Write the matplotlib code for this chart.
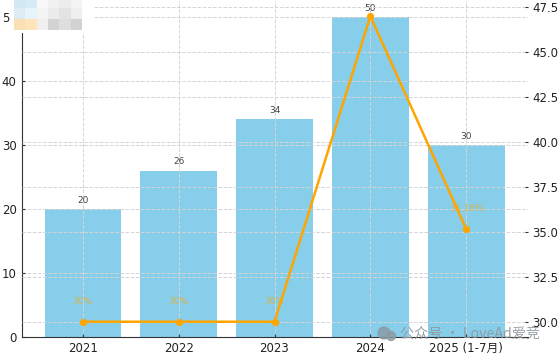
import matplotlib
matplotlib.use("Agg")
import numpy as np
import matplotlib.pyplot as plt
from matplotlib.patches import Circle

plt.rcParams['font.family'] = ['DejaVu Sans', 'Noto Sans CJK SC']

# chart data
years = ['2021', '2022', '2023', '2024', '2025 (1-7月)']
counts = [20, 26, 34, 50, 30]
rates = [30, 30, 30, 47, 35.16]
# the 2024 label runs off the top of the source image
rate_labels = ['30%', '30%', '30%', '', '35.16%']

# blurred legend in the top left corner of the source
mosaic = [
    ['#d2e8f3', '#d6ebf5', '#f8f8f8', '#f1f1f1', '#ececec', '#f3f3f3'],
    ['#dcebf4', '#e8f4fb', '#f4f4f4', '#ececec', '#e3e3e3', '#efefef'],
    ['#fbe0b4', '#fde4bb', '#efefef', '#d3d3d3', '#dedede', '#d2d2d2'],
]

W, H = 559, 356
GRID = '#d4d4d4'
fig = plt.figure(figsize=(W / 100, H / 100), dpi=100)
ax = fig.add_axes([21.5 / W, 1 - 337 / H, 506 / W, 336 / H])
x = np.arange(len(years))

ax.bar(x, counts, width=0.8, color='skyblue', zorder=2)
ax.grid(True, color=GRID, linestyle='--', linewidth=0.7, zorder=3)
ax.set_axisbelow(False)
for i, c in enumerate(counts):
    ax.annotate(str(c), (x[i], c), xytext=(0, 3), textcoords='offset points',
                ha='center', va='bottom', fontsize=6.5, color='#444444')
ax.set_xticks(x)
ax.set_xticklabels(years)
ax.tick_params(labelsize=8.5, labelcolor='#222222', length=2.5, pad=3.5, color='#333333',
               direction='in')
ax.set_yticks([0, 10, 20, 30, 40, 50])
ax.set_xlim(-0.64, 4.64)
ax.set_ylim(0, 52.5)
ax.spines['top'].set_visible(False)
ax.spines['right'].set_visible(False)
ax.spines['left'].set_color('#333333')
ax.spines['bottom'].set_color('#333333')

ax2 = ax.twinx()
ax2.plot(x, rates, color='orange', marker='o', linewidth=1.8, markersize=4.2)
ax2.grid(True, axis='y', color=GRID, linestyle='--', linewidth=0.7)
for i, r in enumerate(rates):
    ax2.annotate(rate_labels[i], (x[i], r), xytext=(0, 11.5), textcoords='offset points',
                 ha='center', va='bottom', fontsize=6.5, color='orange', alpha=0.65)
ax2.set_ylim(29.15, 47.85)
ax2.set_yticks(np.arange(30, 48, 2.5))
ax2.tick_params(labelsize=8.5, labelcolor='#222222', length=2.5, pad=3.5, color='#333333',
                direction='in')
for s in ['top', 'right', 'left', 'bottom']:
    ax2.spines[s].set_visible(False)

# watermark
fig.text(400 / W, 1 - 334 / H, '公众号 · LoveAd爱竞', fontsize=10.2, color='#8e979c', alpha=0.9,
         family=['Noto Sans CJK SC', 'DejaVu Sans'], ha='left', va='center', zorder=10)
icon = fig.add_axes([376 / W, 1 - 342 / H, 22 / W, 16 / H])
icon.axis('off')
icon.set_xlim(0, 22)
icon.set_ylim(16, 0)
icon.add_patch(Circle((8, 7), 6, color='#8c9aa3', alpha=0.8))
icon.add_patch(Circle((15, 10), 4.5, color='#8c9aa3', alpha=0.8))

# blurred legend
leg = fig.add_axes([10 / W, 1 - 33 / H, 84 / W, 33 / H])
leg.set_facecolor('white')
leg.set_xticks([])
leg.set_yticks([])
for s in leg.spines.values():
    s.set_visible(False)
rgb = np.array([[matplotlib.colors.to_rgb(c) for c in row] for row in mosaic])
leg.imshow(rgb, extent=(4, 71, 30, -3), aspect='auto', interpolation='nearest')
leg.set_xlim(0, 84)
leg.set_ylim(33, 0)

fig.savefig('out.png', dpi=100)
